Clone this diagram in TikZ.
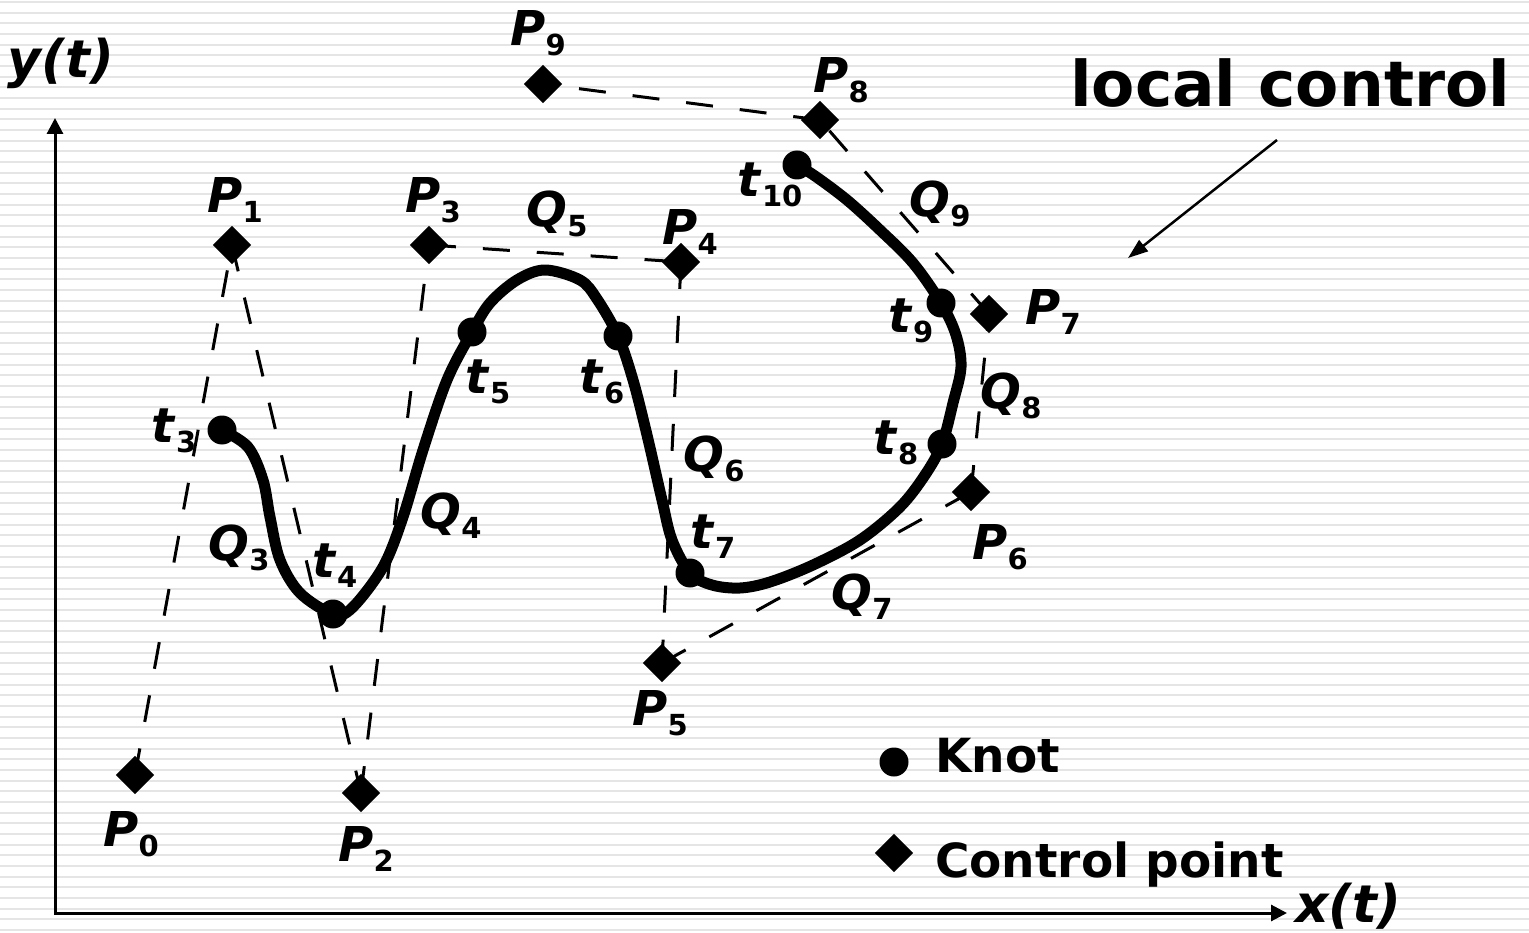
\documentclass[tikz,border=0pt]{standalone}
\usepackage{fontspec}
\setmainfont{DejaVu Sans}
\usetikzlibrary{arrows.meta}
\newcommand{\lbl}[2]{\textbf{\textit{#1}}\raisebox{-10pt}{\fontsize{29}{29}\selectfont\bfseries #2}}
\tikzset{
  stripe/.style={black!10, line width=2pt},
  ctrl/.style={rectangle, rotate=45, minimum size=27pt, inner sep=0pt, fill=black},
  knot/.style={circle, fill=black, minimum size=29pt, inner sep=0pt},
  polyline/.style={dash pattern=on 27pt off 27pt, line width=3pt},
  curveline/.style={line width=11pt, line join=round, line cap=round},
  lab/.style={font=\fontsize{48}{54}\selectfont, inner sep=0pt},
  axislab/.style={font=\fontsize{52}{58}\selectfont\bfseries\itshape, inner sep=0pt},
  legend/.style={font=\fontsize{47}{52}\selectfont\bfseries, inner sep=0pt, anchor=base west},
  axis/.style={line width=3pt, {Triangle[length=16pt,width=16pt]}-{Triangle[length=16pt,width=16pt]}},
  pointer/.style={line width=2.5pt, -{Triangle[length=20pt,width=14pt]}}
}
\begin{document}
\begin{tikzpicture}[x=1pt,y=-1pt]
\fill[white] (0,0) rectangle (1529,933);
\useasboundingbox (0,0) rectangle (1529,933);
\foreach \i in {0,...,87} \draw[stripe] (0,{\i*10.667+2}) -- (1529,{\i*10.667+2});

% axes
\coordinate (Ytop) at (55,118);
\coordinate (O) at (55,913);
\coordinate (Xend) at (1287,913);
\draw[axis] (Ytop) -- (O) -- (Xend);
\node[axislab] (ylab) at (61,63) {y(t)};
\node[axislab] (xlab) at (1348,906) {x(t)};

% control points
\node[ctrl] (P0) at (135,775) {};
\node[ctrl] (P1) at (232,245) {};
\node[ctrl] (P2) at (361,793) {};
\node[ctrl] (P3) at (429,245) {};
\node[ctrl] (P4) at (681,262) {};
\node[ctrl] (P5) at (662,663) {};
\node[ctrl] (P6) at (971,492) {};
\node[ctrl] (P7) at (989,314) {};
\node[ctrl] (P8) at (820,120) {};
\node[ctrl] (P9) at (543,84) {};

\draw[polyline] (P0.center) -- (P1.center);
\draw[polyline] (P1.center) -- (P2.center);
\draw[polyline] (P2.center) -- (P3.center);
\draw[polyline] (P3.center) -- (P4.center);
\draw[polyline] (P4.center) -- (P5.center);
\draw[polyline] (P5.center) -- (P6.center);
\draw[polyline] (P6.center) -- (P7.center);
\draw[polyline] (P7.center) -- (P8.center);
\draw[polyline] (P8.center) -- (P9.center);

% knots
\coordinate (t3) at (222,430);
\coordinate (t4) at (333,614);
\coordinate (t5) at (472,332);
\coordinate (t6) at (618,336);
\coordinate (t7) at (690,573);
\coordinate (t8) at (942,444);
\coordinate (t9) at (941,303);
\coordinate (t10) at (797,165);

\draw[curveline] plot[smooth, tension=0.55] coordinates {
  (t3) (248,447) (263,480) (270,517) (280,560) (300,593) (t4)
  (352,608) (383,567) (403,517) (423,450) (447,380) (t5)
  (490,303) (517,280) (545,270) (580,280) (597,299) (t6)
  (633,380) (647,435) (662,500) (672,540) (t7)
  (712,585) (740,588) (770,582) (813,565) (860,540) (900,507) (925,475) (t8)
  (953,403) (961,367) (956,335) (t9)
  (913,263) (880,230) (847,200) (815,176) (t10)};

\foreach \k in {t3,t4,t5,t6,t7,t8,t9,t10} \node[knot] (k\k) at (\k) {};

% labels
\node[lab] (lP0) at (131,834) {\lbl{P}{0}};
\node[lab] (lP1) at (235,200) {\lbl{P}{1}};
\node[lab] (lP2) at (366,849) {\lbl{P}{2}};
\node[lab] (lP3) at (433,200) {\lbl{P}{3}};
\node[lab] (lP4) at (690,232) {\lbl{P}{4}};
\node[lab] (lP5) at (660,713) {\lbl{P}{5}};
\node[lab] (lP6) at (1000,547) {\lbl{P}{6}};
\node[lab] (lP7) at (1053,312) {\lbl{P}{7}};
\node[lab] (lP8) at (841,80) {\lbl{P}{8}};
\node[lab] (lP9) at (538,33) {\lbl{P}{9}};

\node[lab] (lt3) at (174,431) {\lbl{t}{3}};
\node[lab] (lt4) at (335,566) {\lbl{t}{4}};
\node[lab] (lt5) at (488,382) {\lbl{t}{5}};
\node[lab] (lt6) at (602,382) {\lbl{t}{6}};
\node[lab] (lt7) at (713,537) {\lbl{t}{7}};
\node[lab] (lt8) at (896,443) {\lbl{t}{8}};
\node[lab] (lt9) at (911,321) {\lbl{t}{9}};
\node[lab] (lt10) at (770,185) {\lbl{t}{10}};

\node[lab] (lQ3) at (239,548) {\lbl{Q}{3}};
\node[lab] (lQ4) at (451,516) {\lbl{Q}{4}};
\node[lab] (lQ5) at (557,214) {\lbl{Q}{5}};
\node[lab] (lQ6) at (714,459) {\lbl{Q}{6}};
\node[lab] (lQ7) at (862,597) {\lbl{Q}{7}};
\node[lab] (lQ8) at (1011,396) {\lbl{Q}{8}};
\node[lab] (lQ9) at (940,204) {\lbl{Q}{9}};

% local control
\node[font=\fontsize{63}{70}\selectfont\bfseries, inner sep=0pt, anchor=base west] (lc) at (1070,107) {local control};
\coordinate (lcA) at (1277,140);
\coordinate (lcB) at (1128,258);
\draw[pointer] (lcA) -- (lcB);

% legend
\node[knot] (legK) at (894,762) {};
\node[legend] (legKt) at (935,772) {Knot};
\node[ctrl] (legC) at (894,853) {};
\node[legend] (legCt) at (935,877) {Control point};
\end{tikzpicture}
\end{document}
